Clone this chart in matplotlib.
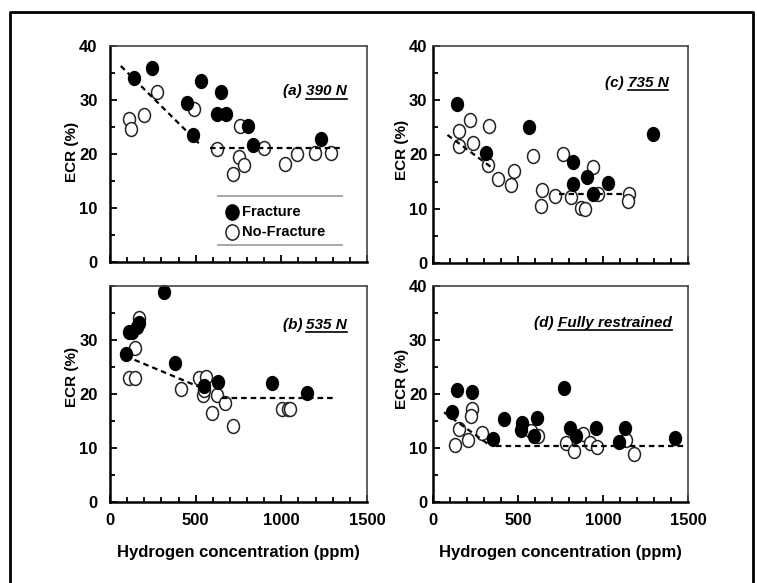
import matplotlib
matplotlib.use('Agg')
import matplotlib.pyplot as plt
from matplotlib.lines import Line2D
from matplotlib.path import Path
from matplotlib.transforms import Affine2D
from matplotlib.ticker import MultipleLocator

plt.rcParams['font.family'] = ['Liberation Sans', 'DejaVu Sans']
plt.rcParams['font.weight'] = 'bold'

# (a) 390 N
a_frac_x = [141, 243, 529, 449, 649, 622, 676, 484, 804, 837, 1229]
a_frac_y = [34.1, 36.0, 33.6, 29.5, 31.4, 27.4, 27.4, 23.5, 25.2, 21.7, 22.7]
a_nof_x = [112, 125, 196, 272, 490, 625, 759, 755, 782, 720, 896, 1024, 1092, 1196, 1288]
a_nof_y = [26.4, 24.6, 27.3, 31.4, 28.3, 20.9, 25.2, 19.5, 18.0, 16.3, 21.2, 18.1, 20.0, 20.1, 20.2]
a_fit1 = ([63, 518], [36.3, 22.0])
a_fit2 = ([582, 1343], [21.2, 21.2])

# (b) 535 N
b_frac_x = [318, 108, 128, 155, 171, 96, 382, 547, 631, 945, 1147]
b_frac_y = [38.9, 31.5, 31.5, 32.5, 33.1, 27.5, 25.8, 21.4, 22.3, 22.0, 20.1]
b_nof_x = [171, 147, 108, 147, 416, 520, 559, 543, 550, 598, 625, 671, 720, 1004, 1037, 1051]
b_nof_y = [34.0, 28.6, 22.9, 22.9, 20.9, 22.9, 23.1, 19.8, 20.8, 16.4, 19.8, 18.3, 14.1, 17.3, 17.2, 17.2]
b_fit1 = ([92, 514], [27.0, 21.4])
b_fit2 = ([651, 1318], [19.3, 19.3])

# (c) 735 N
c_frac_x = [144, 311, 563, 823, 823, 908, 941, 1030, 1296]
c_frac_y = [29.4, 20.2, 25.1, 18.7, 14.5, 15.9, 12.8, 14.7, 23.8]
c_nof_x = [150, 154, 217, 236, 331, 321, 380, 478, 459, 591, 642, 636, 715, 764,
           813, 868, 892, 941, 970, 1153, 1148]
c_nof_y = [24.3, 21.5, 26.3, 22.1, 25.2, 18.1, 15.5, 17.0, 14.3, 19.8, 13.4, 10.5, 12.3, 20.1,
           12.2, 10.2, 10.0, 17.7, 12.7, 12.8, 11.4]
c_fit1 = ([85, 341], [23.6, 17.7])
c_fit2 = ([744, 1118], [12.7, 12.7])

# (d) Fully restrained
d_frac_x = [110, 144, 232, 354, 419, 522, 518, 596, 610, 768, 807, 839, 961, 1094, 1128, 1423]
d_frac_y = [16.6, 20.7, 20.4, 11.7, 15.3, 14.7, 13.4, 12.3, 15.6, 21.2, 13.7, 12.2, 13.7, 11.2, 13.7, 11.9]
d_nof_x = [130, 150, 232, 223, 203, 287, 577, 616, 780, 827, 882, 921, 965, 1138, 1183]
d_nof_y = [10.5, 13.5, 17.3, 15.9, 11.4, 12.8, 13.1, 12.2, 10.9, 9.4, 12.6, 11.0, 10.2, 11.4, 8.8]
d_fit1 = ([65, 330], [16.6, 10.6])
d_fit2 = ([370, 1482], [10.4, 10.4])

ell = Affine2D().scale(0.86, 1.0).transform_path(Path.unit_circle())

W, H = 757, 583
fig = plt.figure(figsize=(W / 100, H / 100), dpi=100)


def box(l, t, r, b):
    return [l / W, 1 - b / H, (r - l) / W, (b - t) / H]


panels = [
    (box(110, 46, 367, 262), a_frac_x, a_frac_y, a_nof_x, a_nof_y, a_fit1, a_fit2,
     '(a) ', '390 N', (0.921, 0.79), False, [0, 10, 20, 30, 40], 9, (-0.12, 0.51)),
    (box(433, 46, 688, 263), c_frac_x, c_frac_y, c_nof_x, c_nof_y, c_fit1, c_fit2,
     '(c) ', '735 N', (0.923, 0.83), False, [0, 10, 20, 30, 40], 4, (-0.095, 0.52)),
    (box(110, 286, 367, 502), b_frac_x, b_frac_y, b_nof_x, b_nof_y, b_fit1, b_fit2,
     '(b) ', '535 N', (0.923, 0.82), True, [0, 10, 20, 30], 9, (-0.12, 0.58)),
    (box(433, 286, 688, 502), d_frac_x, d_frac_y, d_nof_x, d_nof_y, d_fit1, d_fit2,
     '(d) ', 'Fully restrained', (0.936, 0.83), True, [0, 10, 20, 30, 40], 4, (-0.095, 0.57)),
]

underlines = []
for (rect, fx, fy, nx, ny, f1, f2, pre, lab, lpos, showx, yt, ypad, ylc) in panels:
    ax = fig.add_axes(rect)
    ax.set_xlim(0, 1500)
    ax.set_ylim(0, 40)
    ax.plot(nx, ny, linestyle='none', marker=ell, markersize=10, markerfacecolor='white',
            markeredgecolor='#222222', markeredgewidth=1.1, clip_on=False)
    ax.plot(fx, fy, linestyle='none', marker=ell, markersize=10, color='black', clip_on=False)
    ax.plot(*f1, color='black', linestyle=(0, (2.5, 1.8)), linewidth=1.6)
    ax.plot(*f2, color='black', linestyle=(0, (2.5, 1.8)), linewidth=1.6)

    ax.xaxis.set_major_locator(MultipleLocator(500))
    ax.xaxis.set_minor_locator(MultipleLocator(100))
    ax.set_yticks(yt)
    ax.yaxis.set_minor_locator(MultipleLocator(5))
    ax.tick_params(which='both', direction='in', top=False, right=False, width=1.3,
                   labelsize=12)
    ax.tick_params(which='major', length=5)
    ax.tick_params(which='minor', length=3.5)
    ax.tick_params(axis='y', pad=ypad)
    ax.tick_params(axis='x', pad=8, labelbottom=showx)
    for s in ['left', 'bottom']:
        ax.spines[s].set_linewidth(1.8)
    for s in ['top', 'right']:
        ax.spines[s].set_linewidth(1.2)
        ax.spines[s].set_color('#444444')

    ax.set_ylabel('ECR (%)', fontsize=11, fontweight='bold')
    ax.yaxis.set_label_coords(*ylc)
    if showx:
        ax.set_xlabel('Hydrogen concentration (ppm)', fontsize=12, fontweight='bold')
        ax.xaxis.set_label_coords(0.5, -0.2)

    t = ax.text(lpos[0], lpos[1], lab, transform=ax.transAxes, ha='right', va='center',
                fontsize=11, fontstyle='italic', fontweight='bold')
    p = ax.text(0, 0, pre, fontsize=11, fontstyle='italic', fontweight='bold',
                ha='right', va='center')
    underlines.append((ax, t, p))

    if lab == '390 N':
        for yy in (0.306, 0.079):
            ax.plot([0.42, 0.903], [yy, yy], transform=ax.transAxes, color='#999999',
                    linewidth=1.2)
        ax.plot([0.475], [0.231], transform=ax.transAxes, marker=ell, markersize=11,
                color='black', linestyle='none')
        ax.plot([0.475], [0.139], transform=ax.transAxes, marker=ell, markersize=11,
                markerfacecolor='white', markeredgecolor='#222222', markeredgewidth=1.1,
                linestyle='none')
        ax.text(0.515, 0.231, 'Fracture', transform=ax.transAxes, va='center',
                fontsize=10.5, fontweight='bold')
        ax.text(0.515, 0.139, 'No-Fracture', transform=ax.transAxes, va='center',
                fontsize=10.5, fontweight='bold')

# place prefix and underline next to each panel label
fig.canvas.draw()
r = fig.canvas.get_renderer()
inv = fig.transFigure.inverted()
for ax, t, p in underlines:
    bb = t.get_window_extent(r)
    x0, y0 = inv.transform((bb.x0, bb.y0))
    x1, _ = inv.transform((bb.x1, bb.y0))
    yc = inv.transform((bb.x0, (bb.y0 + bb.y1) / 2))[1]
    p.set_transform(fig.transFigure)
    p.set_position((x0, yc))
    fig.add_artist(Line2D([x0, x1], [y0 - 0.5 / H, y0 - 0.5 / H], transform=fig.transFigure,
                          color='black', linewidth=1.2))

# outer frame
fig.add_artist(Line2D([10 / W, 10 / W, 753 / W, 753 / W],
                      [-0.05, 1 - 12 / H, 1 - 12 / H, -0.05],
                      transform=fig.transFigure, color='black', linewidth=2))

fig.savefig('out.png', dpi=100)
